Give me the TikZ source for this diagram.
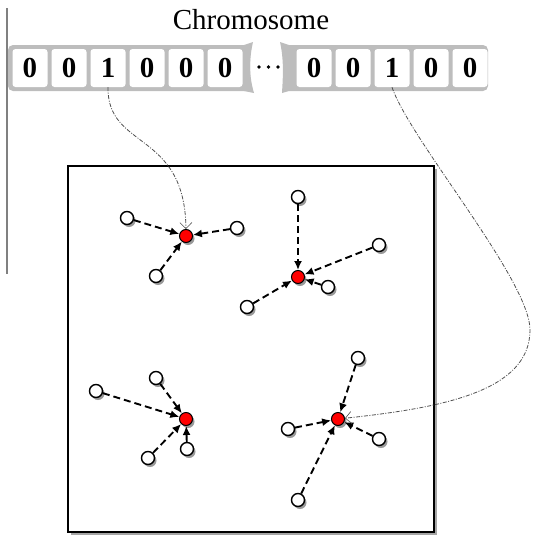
\documentclass[tikz,border=0pt]{standalone}
\usepackage{fontspec}
\setmainfont{Liberation Serif}
\usetikzlibrary{arrows.meta,shadows}
\definecolor{barc}{HTML}{BDBDBD}
\definecolor{chainc}{HTML}{505050}
\tikzset{
  shd/.style={drop shadow={shadow xshift=2pt,shadow yshift=-2.5pt,opacity=0.4,fill=black}},
  sat/.style={circle,draw=black,line width=1.4pt,fill=white,minimum size=13pt,inner sep=0pt,shd},
  ctr/.style={circle,draw=black,line width=1pt,fill=red,minimum size=13pt,inner sep=0pt,shd},
  link/.style={-{Latex[length=9pt,width=8pt]},dash pattern=on 7pt off 4pt,line width=1.9pt},
  chain/.style={draw=chainc,line width=0.8pt,dash pattern=on 4pt off 1.5pt on 1pt off 1.5pt,-{Straight Barb[length=6pt,width=12pt,line width=0.6pt]}},
  cell/.style={fill=white,rounded corners=3pt,minimum width=35pt,minimum height=38pt,inner sep=0pt,font=\bfseries\fontsize{29}{29}\selectfont},
}
\begin{document}
\begin{tikzpicture}[x=1pt,y=-1pt]
\useasboundingbox (0,0) rectangle (536,536);
% left rule
\draw[draw=gray,line width=1.8pt] (7,8) -- (7,274);
% title
\node[font=\fontsize{29}{29}\selectfont,inner sep=0pt] (title) at (251,20) {Chromosome};
% bar pieces
\fill[barc,rounded corners=5pt] (8,45) rectangle (250,91);
\fill[barc] (244,45) -- (253,42) .. controls (249,60) and (249,76) .. (254,93) -- (244,91) -- cycle;
\fill[barc,rounded corners=5pt] (284,45) rectangle (488,91);
\fill[barc] (289,45) -- (280,42) .. controls (284,60) and (283,76) .. (282,93) -- (289,91) -- cycle;
% cells
\foreach \n/\x/\d in {1/30/0,2/69/0,3/108/1,4/147/0,5/186/0,6/225/0,7/314/0,8/353/0,9/392/1,10/431/0,11/470/0}
  \node[cell] (c\n) at (\x,68) {\d};
% dots
\foreach \x in {259,268.5,278} \fill (\x,67) circle (1.8pt);
% box
\node[draw=black,fill=white,line width=2.8pt,minimum size=366pt,inner sep=0pt,
      drop shadow={shadow xshift=3pt,shadow yshift=-3pt,opacity=0.35,fill=black}] (box) at (251,349) {};
% cluster 1
\node[ctr] (r1) at (186,236) {};
\node[sat] (s11) at (127,218) {};
\node[sat] (s12) at (237,228) {};
\node[sat] (s13) at (156,276) {};
% cluster 2
\node[ctr] (r2) at (298,277) {};
\node[sat] (s21) at (298,197) {};
\node[sat] (s22) at (379,245) {};
\node[sat] (s23) at (328,287) {};
\node[sat] (s24) at (247,307) {};
% cluster 3
\node[ctr] (r3) at (186,419) {};
\node[sat] (s31) at (96,391) {};
\node[sat] (s32) at (156,378) {};
\node[sat] (s33) at (148,458) {};
\node[sat] (s34) at (187,449) {};
% cluster 4
\node[ctr] (r4) at (338,419) {};
\node[sat] (s41) at (358,358) {};
\node[sat] (s42) at (288,429) {};
\node[sat] (s43) at (379,439) {};
\node[sat] (s44) at (298,500) {};
% links
\foreach \c/\s in {1/11,1/12,1/13,2/21,2/22,2/23,2/24,3/31,3/32,3/33,3/34,4/41,4/42,4/43,4/44}
  \draw[link] (s\s) -- (r\c);
% chromosome-to-center curves
\draw[chain] (c3.south) .. controls (107,150) and (185,130) .. (r1);
\draw[chain] (c9.south) .. controls (410,140) and (530,280) .. (530,330)
   .. controls (530,392) and (440,408) .. (r4);
\end{tikzpicture}
\end{document}
